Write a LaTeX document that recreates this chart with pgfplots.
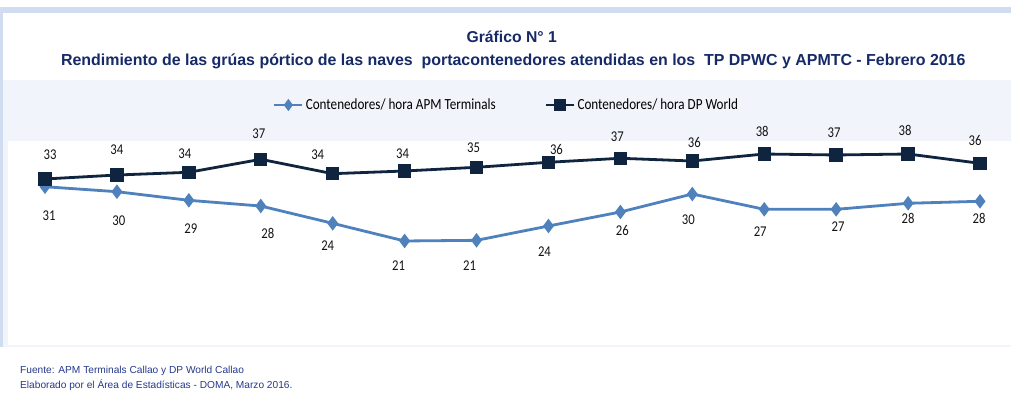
\documentclass[border=0pt]{standalone}
\usepackage{fontspec}
\setmainfont{Liberation Sans}
\newfontfamily\calib[FakeStretch=0.85]{Carlito}
\usepackage{pgfplots}
\pgfplotsset{compat=1.18}
\usepackage{pgfplotstable}
\definecolor{apm}{RGB}{79,129,189}
\definecolor{dpw}{RGB}{15,36,62}
\definecolor{panel}{RGB}{241,244,251}
\definecolor{framec}{RGB}{208,220,240}
\definecolor{titleblue}{RGB}{22,42,104}
\definecolor{footblue}{RGB}{38,58,140}
\definecolor{lbl}{RGB}{20,20,20}

\pgfplotstableread{
x v dx dy
0 31.29 4 -29
1 30.32 2 -29
2 28.65 2 -28
3 27.54 7 -27
4 24.18 -5 -22
5 20.75 -6 -25
6 20.88 -7 -25
7 23.66 -4 -26
8 26.38 2 -19
9 29.87 -4 -26
10 26.90 -4 -22
11 26.90 2 -17
12 28.07 0 -15
13 28.46 -1 -17
}\apmdata

\pgfplotstableread{
x v dx dy
0 32.79 5 24
1 33.56 0 25
2 34.09 -4 19
3 36.61 -2 26
4 33.82 -15 19
5 34.34 -2 17
6 35.06 -3 20
7 36.03 8 13
8 36.81 -3 22
9 36.28 2 18
10 37.64 -2 23
11 37.45 -2 22
12 37.64 -3 24
13 35.83 -5 23
}\dpwdata

\begin{document}
\begin{tikzpicture}[x=1bp,y=1bp]
\useasboundingbox (0,0) rectangle (1011,402);
\fill[white] (0,0) rectangle (1011,402);
\fill[framec] (0,389.3) rectangle (1011,394.7);
\fill[framec] (0,55) rectangle (3.3,389.3);
\fill[panel] (3.3,55) rectangle (1011,322);
\fill[white] (8,57) rectangle (1011,261.5);
\node[anchor=base, inner sep=0pt, text=titleblue, font=\fontsize{15.8}{18}\selectfont\bfseries] at (511.7,360) {Gráfico N° 1};
\node[anchor=base, inner sep=0pt, text=titleblue, font=\fontsize{16}{18}\selectfont\bfseries] at (513.3,336.3) {Rendimiento de las grúas pórtico de las naves\ \ portacontenedores atendidas en los\ \ TP DPWC y APMTC - Febrero 2016};
\node[anchor=base west, inner sep=0pt, text=footblue, font=\fontsize{10.2}{12}\selectfont] at (20,28.7) {Fuente: APM Terminals Callao y DP World Callao};
\node[anchor=base west, inner sep=0pt, text=footblue, font=\fontsize{10.2}{12}\selectfont] at (20,13.7) {Elaborado por el Área de Estadísticas - DOMA, Marzo 2016.};
\begin{axis}[
  at={(45bp,157.15bp)}, anchor=south west,
  scale only axis, width=935bp, height=103bp,
  xmin=0, xmax=13, ymin=20, ymax=40,
  hide axis, clip=false,
  legend columns=2,
  legend style={at={(0.4936,1.358)}, anchor=center, draw=none, fill=none, inner sep=0pt,
    font=\calib\fontsize{15.5}{17}\selectfont,
    /tikz/every even column/.append style={column sep=47bp},
    nodes={inner xsep=2bp, inner ysep=0pt}},
  legend image code/.code={\draw[mark repeat=2,mark phase=2,#1] plot coordinates {(0bp,0bp)(14bp,0bp)(28bp,0bp)};},
  nodes near coords={\pgfmathprintnumber[fixed,precision=0,assume math mode=true]{\pgfplotspointmeta}},
  point meta=y,
]
\addplot[color=apm, line width=2.8bp, mark=diamond*, mark size=5bp, mark options={solid},
  legend image post style={mark size=3.8bp},
  visualization depends on={\thisrow{dx}\as\lblx},
  visualization depends on={\thisrow{dy}\as\lbly},
  every node near coord/.append style={font=\calib\fontsize{15}{17}\selectfont, text=lbl, anchor=center, inner sep=0pt, xshift=\lblx bp, yshift=\lbly bp}]
  table[x=x,y=v] {\apmdata};
\addlegendentry{Contenedores/ hora APM Terminals}
\addplot[color=dpw, line width=2.8bp, mark=square*, mark size=5.3bp, mark options={solid},
  legend image post style={mark size=4.3bp},
  visualization depends on={\thisrow{dx}\as\lblx},
  visualization depends on={\thisrow{dy}\as\lbly},
  every node near coord/.append style={font=\calib\fontsize{15}{17}\selectfont, text=lbl, anchor=center, inner sep=0pt, xshift=\lblx bp, yshift=\lbly bp}]
  table[x=x,y=v] {\dpwdata};
\addlegendentry{Contenedores/ hora DP World}
\end{axis}
\end{tikzpicture}
\end{document}
